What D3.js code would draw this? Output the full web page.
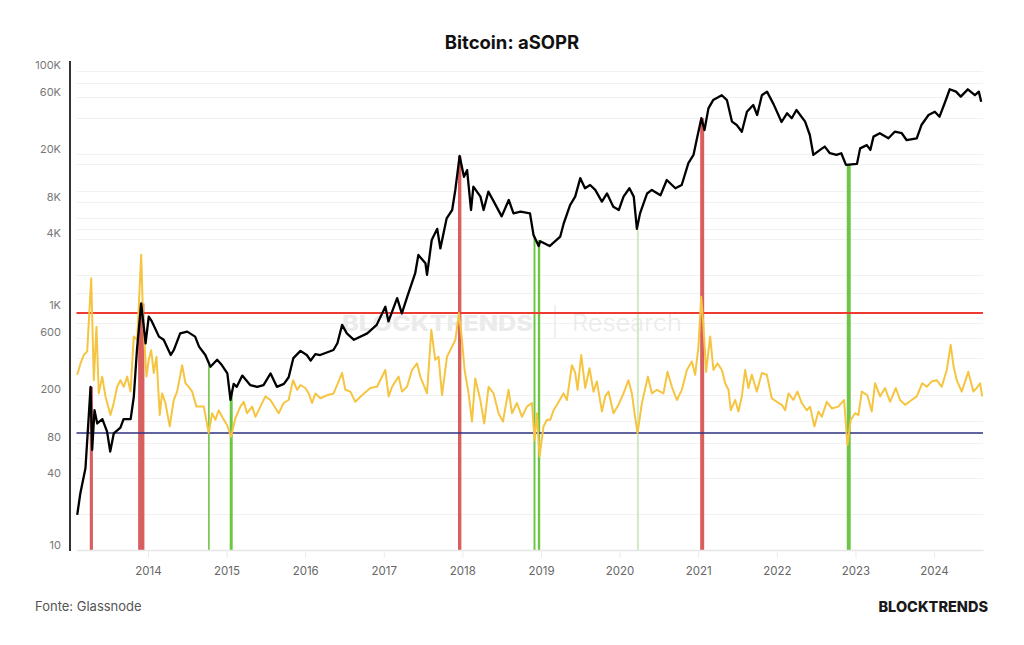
<!DOCTYPE html>
<html>
<head>
<meta charset="utf-8">
<script src="https://cdn.jsdelivr.net/npm/d3@7/dist/d3.min.js"></script>
<style>
  body { margin: 0; background: #fff; }
  svg text { font-family: Inter, "Noto Sans", sans-serif; }
</style>
</head>
<body>
<div id="container"></div>
<script>
// --- data (decimal years) ---
var priceYears = [2013.10, 2013.14, 2013.205, 2013.27, 2013.29, 2013.32, 2013.355, 2013.42, 2013.48, 2013.52,
  2013.565, 2013.65, 2013.69, 2013.78, 2013.82, 2013.86, 2013.914, 2013.97, 2014.01, 2014.05,
  2014.14, 2014.20, 2014.29, 2014.33, 2014.41, 2014.50, 2014.60, 2014.65, 2014.73, 2014.795,
  2014.88, 2014.94, 2015.01, 2015.05, 2015.09, 2015.13, 2015.20, 2015.30, 2015.39, 2015.47,
  2015.56, 2015.64, 2015.73, 2015.79, 2015.85, 2015.94, 2016.02, 2016.07, 2016.13, 2016.19,
  2016.36, 2016.41, 2016.47, 2016.53, 2016.62, 2016.79, 2016.91, 2017.02, 2017.06, 2017.17,
  2017.23, 2017.30, 2017.40, 2017.44, 2017.53, 2017.55, 2017.61, 2017.68, 2017.72, 2017.80,
  2017.87, 2017.91, 2017.965, 2018.02, 2018.06, 2018.11, 2018.14, 2018.23, 2018.27, 2018.33,
  2018.40, 2018.50, 2018.59, 2018.65, 2018.74, 2018.86, 2018.905, 2018.97, 2018.99, 2019.11,
  2019.245, 2019.29, 2019.37, 2019.435, 2019.50, 2019.56, 2019.625, 2019.69, 2019.775, 2019.84,
  2019.92, 2019.99, 2020.05, 2020.125, 2020.18, 2020.22, 2020.26, 2020.35, 2020.41, 2020.52,
  2020.60, 2020.71, 2020.79, 2020.875, 2020.94, 2020.98, 2021.04, 2021.08, 2021.13, 2021.19,
  2021.30, 2021.365, 2021.43, 2021.49, 2021.555, 2021.62, 2021.70, 2021.75, 2021.81, 2021.875,
  2021.96, 2022.06, 2022.13, 2022.19, 2022.25, 2022.36, 2022.42, 2022.465, 2022.55, 2022.61,
  2022.675, 2022.76, 2022.82, 2022.88, 2023.02, 2023.06, 2023.145, 2023.19, 2023.23, 2023.31,
  2023.42, 2023.50, 2023.59, 2023.65, 2023.78, 2023.84, 2023.93, 2024.01, 2024.07, 2024.135,
  2024.20, 2024.28, 2024.34, 2024.43, 2024.52, 2024.57, 2024.60];
var priceValues = [17.8, 27, 43.6, 208, 62, 133, 103, 112, 88, 60,
  85, 95, 112, 112, 172, 422, 1032, 480, 800, 730,
  545, 513, 383, 422, 580, 600, 545, 450, 383, 306,
  350, 316, 269, 162, 220, 208, 258, 215, 208, 215,
  269, 208, 220, 250, 361, 415, 383, 345, 390, 383,
  422, 480, 683, 580, 513, 580, 683, 968, 730, 1140,
  850, 1180, 1840, 2610, 2230, 1780, 3480, 4310, 2960, 5280,
  6190, 9090, 17450, 11700, 13300, 6190, 9690, 8000, 6190, 8800,
  7270, 5480, 7500, 5800, 6000, 5800, 3830, 3100, 3400, 3100,
  3720, 4800, 6800, 8000, 11400, 9400, 10000, 9100, 7270, 8500,
  6600, 6190, 8000, 9400, 8000, 4310, 5800, 8500, 9100, 8200,
  11000, 9400, 10000, 15200, 17800, 23700, 36000, 28700, 43500, 51000,
  56000, 51000, 33700, 31600, 27800, 40800, 46400, 38300, 56000, 60000,
  47000, 33500, 39600, 36000, 42200, 33700, 26100, 17800, 19600, 20900,
  18400, 17800, 18400, 14700, 15000, 20200, 21500, 19600, 25300, 27000,
  24500, 27800, 27000, 23700, 24500, 31600, 38300, 40800, 37100, 48000,
  62800, 60000, 54500, 62700, 56000, 60000, 49500];

var soprYears = [2013.10, 2013.142, 2013.184, 2013.227, 2013.278, 2013.311, 2013.345, 2013.374, 2013.418, 2013.46,
  2013.523, 2013.565, 2013.608, 2013.65, 2013.692, 2013.736, 2013.778, 2013.82, 2013.863, 2013.914,
  2013.939, 2013.981, 2014.01, 2014.041, 2014.074, 2014.108, 2014.15, 2014.18, 2014.222, 2014.277,
  2014.328, 2014.371, 2014.435, 2014.477, 2014.519, 2014.562, 2014.617, 2014.71, 2014.773, 2014.816,
  2014.858, 2014.90, 2014.943, 2015.007, 2015.058, 2015.113, 2015.176, 2015.218, 2015.261, 2015.325,
  2015.367, 2015.43, 2015.494, 2015.558, 2015.663, 2015.727, 2015.79, 2015.846, 2015.897, 2015.939,
  2016.003, 2016.045, 2016.088, 2016.13, 2016.193, 2016.278, 2016.362, 2016.469, 2016.511, 2016.575,
  2016.638, 2016.723, 2016.829, 2016.914, 2017.02, 2017.062, 2017.105, 2017.189, 2017.232, 2017.296,
  2017.359, 2017.423, 2017.465, 2017.55, 2017.605, 2017.655, 2017.697, 2017.741, 2017.804, 2017.868,
  2017.91, 2017.957, 2017.995, 2018.028, 2018.079, 2018.122, 2018.164, 2018.228, 2018.278, 2018.333,
  2018.397, 2018.46, 2018.516, 2018.587, 2018.631, 2018.694, 2018.758, 2018.821, 2018.885, 2018.918,
  2018.948, 2018.982, 2019.032, 2019.076, 2019.118, 2019.16, 2019.203, 2019.287, 2019.33, 2019.393,
  2019.436, 2019.465, 2019.512, 2019.563, 2019.617, 2019.668, 2019.711, 2019.775, 2019.817, 2019.859,
  2019.923, 2019.986, 2020.05, 2020.113, 2020.156, 2020.19, 2020.228, 2020.284, 2020.36, 2020.411,
  2020.474, 2020.558, 2020.609, 2020.665, 2020.729, 2020.792, 2020.856, 2020.919, 2020.961, 2021.003,
  2021.038, 2021.067, 2021.101, 2021.152, 2021.194, 2021.245, 2021.301, 2021.343, 2021.385, 2021.415,
  2021.47, 2021.512, 2021.555, 2021.597, 2021.639, 2021.682, 2021.746, 2021.809, 2021.873, 2021.936,
  2022.0, 2022.064, 2022.106, 2022.148, 2022.211, 2022.262, 2022.318, 2022.381, 2022.423, 2022.478,
  2022.529, 2022.572, 2022.636, 2022.70, 2022.783, 2022.856, 2022.898, 2022.941, 2022.996, 2023.038,
  2023.081, 2023.152, 2023.208, 2023.25, 2023.314, 2023.377, 2023.441, 2023.513, 2023.568, 2023.631,
  2023.716, 2023.78, 2023.851, 2023.907, 2023.971, 2024.034, 2024.098, 2024.162, 2024.212, 2024.246,
  2024.289, 2024.352, 2024.436, 2024.50, 2024.543, 2024.585, 2024.614];
var soprValues = [1.047, 1.066, 1.080, 1.086, 1.208, 1.038, 1.127, 1.016, 1.044, 1.011,
  0.980, 1.000, 1.027, 1.038, 1.027, 1.044, 1.019, 1.111, 1.105, 1.247,
  1.138, 1.044, 1.072, 1.088, 1.050, 1.077, 0.980, 1.016, 1.000, 0.961,
  1.005, 1.019, 1.063, 1.033, 1.027, 1.019, 0.994, 0.994, 0.950, 0.983,
  0.972, 0.988, 0.977, 0.963, 0.944, 0.975, 0.994, 1.002, 0.983, 0.994,
  0.977, 0.994, 1.011, 1.005, 0.983, 1.000, 1.005, 1.038, 1.022, 1.030,
  1.025, 1.016, 1.000, 1.016, 1.008, 1.013, 1.016, 1.050, 1.022, 1.019,
  1.002, 1.013, 1.025, 1.027, 1.055, 1.011, 1.027, 1.044, 1.019, 1.027,
  1.055, 1.066, 1.044, 1.016, 1.122, 1.072, 1.077, 1.013, 1.077, 1.094,
  1.105, 1.150, 1.105, 1.055, 1.016, 0.969, 1.041, 1.005, 0.966, 1.027,
  1.016, 0.983, 0.969, 1.022, 0.983, 1.000, 0.977, 0.994, 1.000, 0.938,
  0.983, 0.911, 0.961, 0.972, 0.972, 0.988, 0.997, 1.016, 1.005, 1.063,
  1.050, 1.022, 1.080, 1.025, 1.058, 1.019, 1.036, 0.986, 1.011, 1.019,
  0.983, 0.997, 1.016, 1.038, 1.016, 0.983, 0.950, 1.000, 1.044, 1.016,
  1.022, 1.016, 1.052, 1.027, 1.005, 1.022, 1.055, 1.069, 1.047, 1.094,
  1.177, 1.127, 1.052, 1.111, 1.055, 1.066, 1.055, 1.033, 1.022, 0.988,
  1.005, 0.986, 1.011, 1.055, 1.025, 1.047, 1.019, 1.050, 1.047, 1.008,
  1.002, 0.997, 0.988, 1.016, 1.005, 1.019, 1.000, 0.988, 0.994, 0.961,
  0.986, 0.977, 1.002, 0.991, 0.994, 1.005, 0.930, 0.972, 0.983, 0.980,
  1.019, 1.013, 0.986, 1.033, 1.011, 1.025, 1.002, 1.025, 1.005, 0.997,
  1.005, 1.011, 1.033, 1.027, 1.036, 1.038, 1.027, 1.055, 1.097, 1.063,
  1.038, 1.019, 1.052, 1.019, 1.025, 1.033, 1.011];

// signal bars: start / end (decimal years), price at the top of the bar, kind
var signalStart = [2013.26, 2013.875, 2014.765, 2015.04, 2017.944, 2018.905, 2018.96, 2020.22, 2021.025, 2022.89];
var signalEnd   = [2013.30, 2013.955, 2014.785, 2015.078, 2017.987, 2018.93, 2018.99, 2020.245, 2021.076, 2022.94];
var signalTop   = [208, 1030, 316, 196, 17450, 3700, 3480, 4310, 36000, 14700];
var signalKind  = ["top", "top", "bottom", "bottom", "top", "bottom", "bottom", "weak", "top", "bottom"];

var soprBands = [0.95, 1.15];   // lower (blue) and upper (red) levels
var yTicks = [10, 40, 80, 200, 600, 1000, 4000, 8000, 20000, 60000, 100000];
var gridValues = [89000, 71000, 54000, 36000, 18000, 15000, 8900, 7200, 5300, 4300, 3550,
  1780, 1250, 710, 535, 360, 178, 108, 71, 53, 36, 18];
var xTicks = [2014, 2015, 2016, 2017, 2018, 2019, 2020, 2021, 2022, 2023, 2024];

var kindColor = { top: "#d95f5f", bottom: "#6cc644", weak: "#cfeac0" };

// --- layout ---
var W = 1024, H = 645;
var plot = { left: 76.5, right: 983, top: 65, bottom: 545, axis: 550, yLine: 70 };

var svg = d3.select("#container").append("svg")
  .attr("width", W).attr("height", H)
  .style("display", "block");

svg.append("rect").attr("width", W).attr("height", H).attr("fill", "#fff");

var x = d3.scaleLinear().domain([2013.091, 2024.623]).range([plot.left, plot.right]);
var y = d3.scaleLog().domain([10, 100000]).range([plot.bottom, plot.top]);
var plotH = plot.bottom - plot.top;
var ySopr = d3.scaleLinear().domain(soprBands)
  .range([plot.top + plotH * 0.7667, plot.top + plotH * 0.5167]);

// title
svg.append("text")
  .attr("x", W / 2).attr("y", 49)
  .attr("text-anchor", "middle")
  .attr("font-size", 18.5).attr("font-weight", 700).attr("fill", "#111")
  .text("Bitcoin: aSOPR");

// grid
svg.append("g").selectAll("line").data(gridValues).enter().append("line")
  .attr("x1", plot.left).attr("x2", plot.right)
  .attr("y1", function (d) { return Math.round(y(d)) + 0.5; })
  .attr("y2", function (d) { return Math.round(y(d)) + 0.5; })
  .attr("stroke", "#f1f1f1").attr("stroke-width", 1);

// watermark
var wm = svg.append("g").attr("fill", "#ebebeb");
wm.append("text").attr("x", 342).attr("y", 331)
  .attr("font-size", 21).attr("font-weight", 800)
  .attr("textLength", 191).attr("lengthAdjust", "spacingAndGlyphs")
  .text("BLOCKTRENDS");
wm.append("line").attr("x1", 555).attr("x2", 555).attr("y1", 305).attr("y2", 338)
  .attr("stroke", "#e6e6e6").attr("stroke-width", 1.2);
wm.append("text").attr("x", 572).attr("y", 331)
  .attr("font-size", 23).attr("font-weight", 300)
  .attr("textLength", 110).attr("lengthAdjust", "spacingAndGlyphs")
  .text("Research");

// signal bars
var signals = signalStart.map(function (s, i) {
  return { start: s, end: signalEnd[i], top: signalTop[i], kind: signalKind[i] };
});
svg.append("g").selectAll("rect").data(signals).enter().append("rect")
  .attr("x", function (d) { return x(d.start); })
  .attr("width", function (d) { return Math.max(1.5, x(d.end) - x(d.start)); })
  .attr("y", function (d) { return y(d.top); })
  .attr("height", function (d) { return plot.axis - y(d.top); })
  .attr("fill", function (d) { return kindColor[d.kind]; });

// aSOPR band lines
svg.append("g").selectAll("line").data(soprBands).enter().append("line")
  .attr("x1", plot.left).attr("x2", plot.right)
  .attr("y1", function (d) { return ySopr(d); })
  .attr("y2", function (d) { return ySopr(d); })
  .attr("stroke", function (d, i) { return i === 0 ? "#2e3080" : "#ee3b30"; })
  .attr("stroke-width", function (d, i) { return i === 0 ? 1.6 : 2; });

// aSOPR line
var soprLine = d3.line()
  .x(function (d, i) { return x(soprYears[i]); })
  .y(function (d) { return ySopr(d); });
svg.append("path").datum(soprValues)
  .attr("d", soprLine)
  .attr("fill", "none").attr("stroke", "#f5c542").attr("stroke-width", 2)
  .attr("stroke-linejoin", "round");

// price line
var priceLine = d3.line()
  .x(function (d, i) { return x(priceYears[i]); })
  .y(function (d) { return y(d); });
svg.append("path").datum(priceValues)
  .attr("d", priceLine)
  .attr("fill", "none").attr("stroke", "#000").attr("stroke-width", 2.3)
  .attr("stroke-linejoin", "round");

// y axis
function fmtPrice(d) { return d >= 1000 ? (d / 1000) + "K" : String(d); }
var yAxis = svg.append("g")
  .attr("transform", "translate(" + plot.yLine + ",0)")
  .call(d3.axisLeft(y).tickValues(yTicks).tickFormat(fmtPrice).tickSize(0).tickPadding(9));
yAxis.select(".domain").remove();
yAxis.selectAll("text").attr("font-size", 11).attr("fill", "#777")
  .style("font-family", "Inter, 'Noto Sans', sans-serif");
svg.append("line")
  .attr("x1", plot.yLine).attr("x2", plot.yLine)
  .attr("y1", plot.top - 4).attr("y2", plot.axis + 1)
  .attr("stroke", "#333").attr("stroke-width", 2);

// x axis
var xAxis = svg.append("g")
  .attr("transform", "translate(0," + plot.axis + ")")
  .call(d3.axisBottom(x).tickValues(xTicks).tickFormat(d3.format("d"))
    .tickSize(8).tickSizeOuter(0).tickPadding(9));
xAxis.select(".domain").attr("stroke", "#e6e6e6").attr("stroke-width", 1.5);
xAxis.selectAll(".tick line").attr("stroke", "#ececec");
xAxis.selectAll("text").attr("font-size", 11.5).attr("fill", "#666")
  .style("font-family", "Inter, 'Noto Sans', sans-serif");

// footer
svg.append("text").attr("x", 35).attr("y", 611)
  .attr("font-size", 13).attr("fill", "#555")
  .text("Fonte: Glassnode");
svg.append("text").attr("x", 988).attr("y", 612)
  .attr("text-anchor", "end")
  .attr("font-size", 14.5).attr("font-weight", 800).attr("fill", "#1a1a1a")
  .text("BLOCKTRENDS");
</script>
</body>
</html>
